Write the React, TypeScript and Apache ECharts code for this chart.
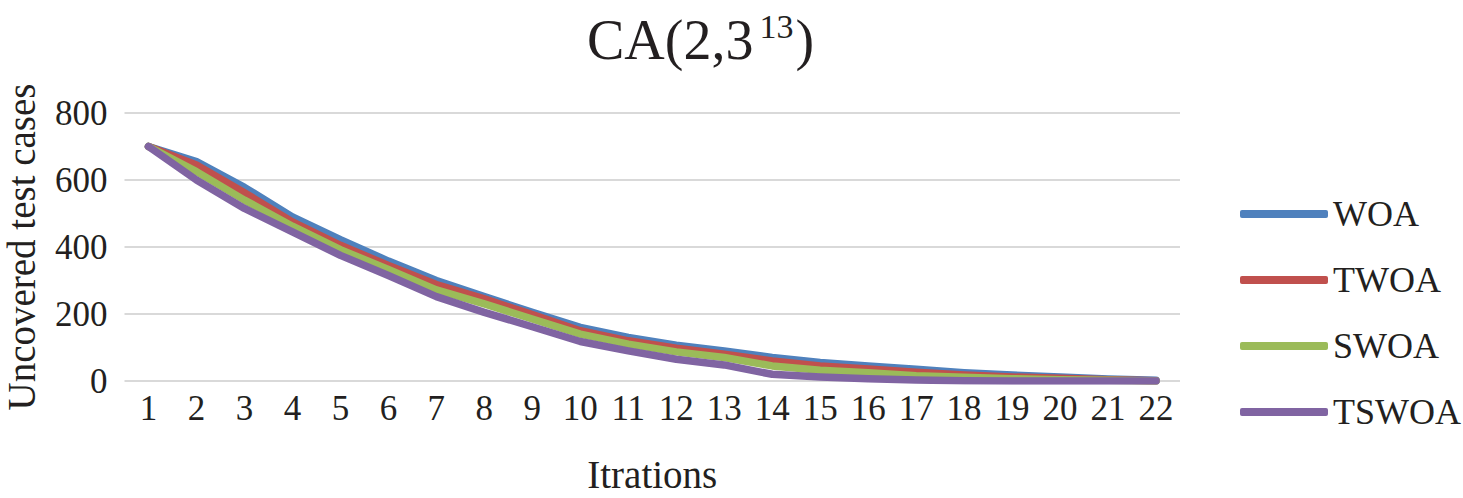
import React, { useEffect, useRef } from "react";
import * as echarts from "echarts";

const categories = ["1","2","3","4","5","6","7","8","9","10","11","12","13","14","15","16","17","18","19","20","21","22"];
const woa = [700, 655, 578, 490, 422, 358, 300, 252, 205, 160, 130, 107, 90, 70, 55, 45, 35, 25, 18, 12, 6, 2];
const twoa = [700, 645, 562, 475, 405, 345, 288, 245, 198, 150, 120, 98, 80, 60, 45, 36, 26, 18, 12, 8, 4, 1];
const swoa = [700, 625, 540, 462, 392, 333, 272, 230, 185, 140, 110, 87, 70, 45, 32, 25, 16, 11, 7, 4, 2, 0];
const tswoa = [700, 600, 515, 445, 375, 315, 252, 205, 162, 118, 90, 65, 48, 20, 12, 7, 3, 1, 0, 0, 0, 0];
const seriesNames = ["WOA", "TWOA", "SWOA", "TSWOA"];
const seriesData = [woa, twoa, swoa, tswoa];
const colors = ["#4F81BD", "#C0504D", "#9BBB59", "#8064A2"];

const FONT = "Liberation Serif";
const INK = "#231f20";

export default function App() {
  const ref = useRef<HTMLDivElement>(null);
  useEffect(() => {
    if (!ref.current) return;
    const chart = echarts.init(ref.current, undefined, { renderer: "svg" });
    chart.setOption({
      animation: false,
      title: {
        text: "{a|CA(2,3}{sup|13}{a|)}",
        left: 582,
        top: 4,
        textStyle: {
          fontWeight: "normal",
          rich: {
            a: { fontFamily: FONT, fontSize: 56, fontWeight: "normal", color: INK },
            sup: { fontFamily: FONT, fontSize: 34, fontWeight: "normal", color: INK, padding: [0, 2, 27, 6] },
          },
        },
      },
      legend: {
        orient: "vertical",
        left: 1240,
        top: 196,
        padding: 0,
        itemGap: 30,
        itemWidth: 88,
        itemHeight: 8,
        icon: "roundRect",
        data: seriesNames,
        textStyle: { fontFamily: FONT, fontSize: 36, color: INK },
      },
      grid: { left: 124.5, right: 283, top: 113, bottom: 117, containLabel: false, outerBoundsMode: "none" },
      xAxis: {
        type: "category",
        data: categories,
        boundaryGap: true,
        name: "Itrations",
        nameLocation: "middle",
        nameGap: 74,
        nameTextStyle: { fontFamily: FONT, fontSize: 39, color: INK },
        axisLine: { show: false },
        axisTick: { show: false },
        axisLabel: { fontFamily: FONT, fontSize: 35, color: INK, margin: 10 },
      },
      yAxis: {
        type: "value",
        min: 0,
        max: 800,
        interval: 200,
        name: "Uncovered test cases",
        nameLocation: "middle",
        nameGap: 84,
        nameTextStyle: { fontFamily: FONT, fontSize: 39, color: INK },
        axisLine: { show: false },
        axisTick: { show: false },
        axisLabel: { fontFamily: FONT, fontSize: 35, color: INK, margin: 17 },
        splitLine: { lineStyle: { color: "#d9d9d9", width: 2 } },
      },
      series: seriesNames.map((n, i) => ({
        name: n,
        type: "line",
        data: seriesData[i],
        showSymbol: false,
        symbol: "none",
        color: colors[i],
        lineStyle: { width: 7.5, color: colors[i], cap: "round", join: "round" },
        itemStyle: { color: colors[i] },
      })),
    });
    return () => chart.dispose();
  }, []);
  return <div ref={ref} style={{ position: "fixed", left: 0, top: 0, width: 1463, height: 498, background: "#fff" }} />;
}
